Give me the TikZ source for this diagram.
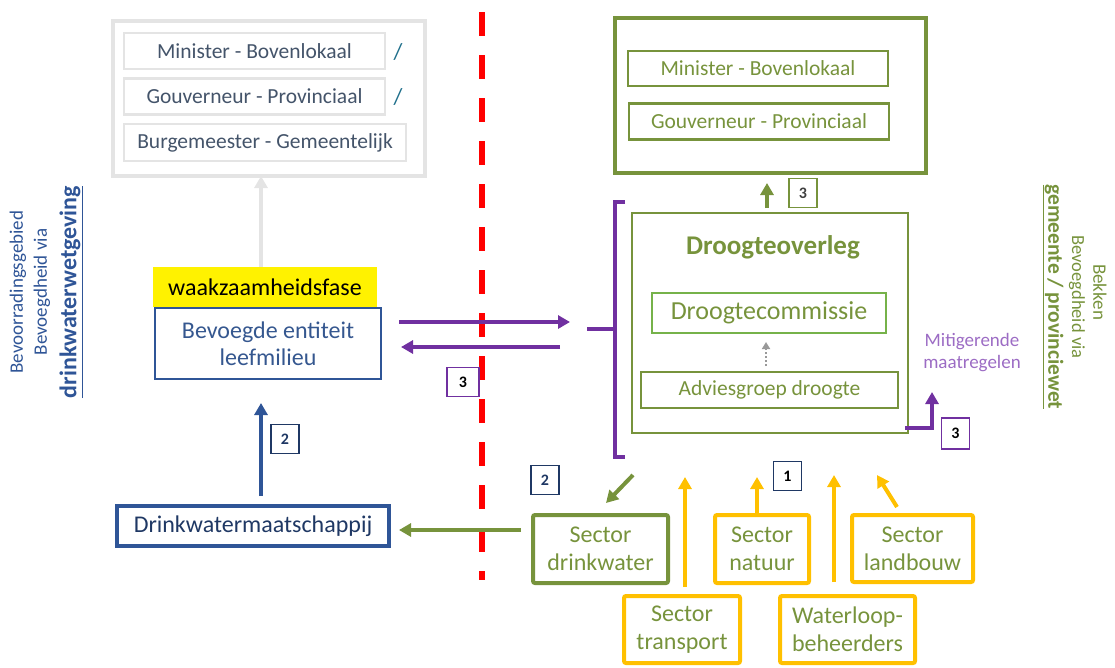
\documentclass[tikz,border=0pt]{standalone}
\usepackage{fontspec}
\setmainfont{Carlito}
\usetikzlibrary{arrows.meta,calc}
\definecolor{ogreen}{HTML}{77933C}
\definecolor{lgreen}{HTML}{76B24A}
\definecolor{gold}{HTML}{FFC000}
\definecolor{bblue}{HTML}{2F5597}
\definecolor{navy}{HTML}{1F3864}
\definecolor{slate}{HTML}{44546A}
\definecolor{bevtext}{HTML}{35578F}
\definecolor{lgray}{HTML}{E4E4E4}
\definecolor{slashc}{HTML}{1F6F8B}
\definecolor{purp}{HTML}{7030A0}
\definecolor{lpurp}{HTML}{9C6CC4}
\definecolor{redd}{HTML}{FF0000}
\newcommand\fsz[2]{\fontsize{#1}{#2}\selectfont}
\begin{document}
\begin{tikzpicture}[x=1pt,y=-1pt,
  every node/.style={inner sep=0pt, outer sep=0pt, align=center},
  rect/.style={draw, inner sep=0pt},
  ltbox/.style={rect, draw=lgray, line width=2.5pt, text=slate, font=\fsz{21.5}{24}},
  rtbox/.style={rect, draw=ogreen, line width=2.5pt, text=ogreen, font=\fsz{21.5}{24}},
  sectorg/.style={rect, draw=ogreen, line width=4pt, rounded corners=2pt, text=ogreen, font=\fsz{24}{28}},
  sectory/.style={rect, draw=gold, line width=4pt, rounded corners=2pt, text=ogreen, font=\fsz{24}{28}},
  numbox/.style={rect, line width=1.5pt, minimum width=28pt, minimum height=29pt, font=\bfseries\fsz{16}{18}},
  tipa/.style={-{Triangle[length=12pt,width=13pt]}},
  yarr/.style={tipa, draw=gold, line width=4pt},
]
\useasboundingbox (0,0) rectangle (1115,667);

% ---------- left top (greyed out) ----------
\node[rect, draw=lgray, line width=4pt, minimum width=312, minimum height=155] (ltop) at (269,98.5) {};
\node[ltbox, minimum width=261, minimum height=36] (lmin) at (254.5,51) {Minister - Bovenlokaal};
\node[ltbox, minimum width=261, minimum height=36] (lgouv) at (254.5,96.5) {Gouverneur - Provinciaal};
\node[ltbox, minimum width=282, minimum height=37] (lburg) at (265,142.5) {Burgemeester - Gemeentelijk};
\node[text=slashc, font=\fsz{23}{24}] (sl1) at (398,52) {/};
\node[text=slashc, font=\fsz{23}{24}] (sl2) at (398,97) {/};

% ---------- left vertical text ----------
\node[rotate=90, text=bblue, font=\fsz{19}{22}] (lv1) at (18,292) {Bevoorradingsgebied};
\node[rotate=90, text=bblue, font=\fsz{19}{22}] (lv2) at (42,292) {Bevoegdheid via};
\node[rotate=90, text=bblue, font=\bfseries\fsz{24}{26}] (lv3) at (71,292) {\underline{drinkwaterwetgeving}};

% ---------- right vertical text ----------
\node[rotate=-90, text=ogreen, font=\fsz{19}{22}] (rv1) at (1100,292) {Bekken};
\node[rotate=-90, text=ogreen, font=\fsz{18.5}{22}] (rv2) at (1077,297) {Bevoegdheid via};
\node[rotate=-90, text=ogreen, font=\bfseries\fsz{21.5}{24}] (rv3) at (1053,297) {\underline{gemeente / provinciewet}};

% ---------- red dashed border ----------
\draw[redd, line width=6pt, dash pattern=on 24pt off 19pt] (482,12) -- (482,580);

% ---------- left middle ----------
\node[fill=yellow, minimum width=224, minimum height=40, font=\fsz{24}{26}] (waak) at (265,287) {waakzaamheidsfase};
\node[rect, draw=bblue, line width=2.5pt, minimum width=226, minimum height=71, text=bevtext, font=\fsz{24}{27}] (bev) at (268,343.5) {Bevoegde entiteit\\leefmilieu};
\node[rect, draw=bblue, line width=4pt, minimum width=272, minimum height=40, text=navy, font=\fsz{24}{26}] (dwm) at (253,526) {Drinkwatermaatschappij};
\node[numbox, draw=navy, text=navy] (n2a) at (285,439) {2};

% ---------- right top ----------
\node[rect, draw=ogreen, line width=4.5pt, minimum width=311, minimum height=155] (rtop) at (770.5,95.5) {};
\node[rtbox, minimum width=260, minimum height=35] (rmin) at (758,68.5) {Minister - Bovenlokaal};
\node[rtbox, minimum width=260, minimum height=36] (rgouv) at (759,121.5) {Gouverneur - Provinciaal};
\node[numbox, draw=ogreen, text=black!75] (n3a) at (803,193) {3};

% ---------- Droogteoverleg ----------
\node[rect, draw=ogreen, line width=2.5pt, minimum width=276, minimum height=220] (droog) at (770,323) {};
\node[text=ogreen, font=\bfseries\fsz{27}{30}] (dtitle) at (773,247) {Droogteoverleg};
\node[rect, draw=lgreen, line width=2pt, minimum width=234, minimum height=40, text=ogreen, font=\fsz{26}{28}] (dcom) at (769,313) {Droogtecommissie};
\node[rect, draw=ogreen, line width=2pt, minimum width=257, minimum height=36, text=ogreen, font=\fsz{21.5}{24}] (advies) at (769.5,390) {Adviesgroep droogte};
\node[text=lpurp, font=\fsz{19}{22}] (mitig) at (972,352.5) {Mitigerende\\maatregelen};
\node[numbox, draw=purp, text=black, minimum width=32] (n3b) at (463,382) {3};
\node[numbox, draw=purp, text=black, minimum height=31] (n3c) at (955.5,433.5) {3};

% ---------- sectors ----------
\node[sectorg, minimum width=135, minimum height=68] (sdw) at (600.5,549) {Sector\\drinkwater};
\node[sectory, minimum width=94, minimum height=68] (snat) at (762,549) {Sector\\natuur};
\node[sectory, minimum width=121, minimum height=67] (slb) at (912.5,548.5) {Sector\\landbouw};
\node[sectory, minimum width=116, minimum height=67] (stra) at (682,629.5) {Sector\\transport};
\node[sectory, minimum width=135, minimum height=67] (swl) at (847.5,629.5) {Waterloop-\\beheerders};
\node[numbox, draw=navy, text=black] (n1) at (787.5,476) {1};
\node[numbox, draw=navy, text=navy] (n2b) at (545,480) {2};

% ---------- connectors ----------
\draw[tipa, draw=lgray, line width=3.5pt] ($(waak.north)+(-4,0)$) -- ($(ltop.south)+(-8,0)$);
\draw[tipa, draw=bblue, line width=4pt] ($(dwm.north)+(8,-10)$) -- ($(bev.south)+(-7,24)$);
\draw[tipa, draw=ogreen, line width=4pt] ($(sdw.west)+(-12,-19)$) -- ($(dwm.east)+(10,4)$);

% purple bracket
\coordinate (brk) at ($(droog.west)+(-45,6)$);
\draw[purp, line width=4pt] ($(droog.north west)+(-7,-11)$) -- ($(droog.north west)+(-17,-11)$) -- ($(droog.south west)+(-17,24)$) -- ($(droog.south west)+(-7,24)$);
\draw[purp, line width=4pt] (brk) -- ($(brk)+(28,0)$);
\draw[tipa, draw=purp, line width=4pt] ($(bev.east)+(18,-21.5)$) -- ($(brk)+(-17,-7)$);
\draw[tipa, draw=purp, line width=4pt] ($(brk)+(-27,18)$) -- ($(bev.east)+(20,3.5)$);
\draw[tipa, draw=purp, line width=4pt] ($(droog.south east)+(-3,-5)$) -| ($(droog.south east)+(24,-41)$);

\draw[tipa, draw=ogreen, line width=4pt] ($(droog.north)+(-3,-5)$) -- ($(rtop.south)+(-3.5,10)$);
\draw[-{Triangle[length=7pt,width=8pt]}, draw=black!40, line width=2pt, dotted] ($(advies.north)+(-3.5,-6)$) -- ($(dcom.south)+(-3,9)$);

\draw[tipa, draw=ogreen, line width=4pt] ($(sdw.north)+(32.5,-40)$) -- ($(sdw.north)+(5.5,-12)$);
\draw[yarr] ($(stra.north)+(3,-9)$) -- ($(stra.north)+(3,-119)$);
\draw[yarr] ($(snat.north)+(-5,0)$) -- ($(snat.north)+(-5,-38)$);
\draw[yarr] ($(swl.north)+(-13.5,-14)$) -- ($(swl.north)+(-13.5,-121)$);
\draw[yarr] ($(slb.north)+(-15.5,-8)$) -- ($(slb.north)+(-35.5,-40)$);
\end{tikzpicture}
\end{document}
